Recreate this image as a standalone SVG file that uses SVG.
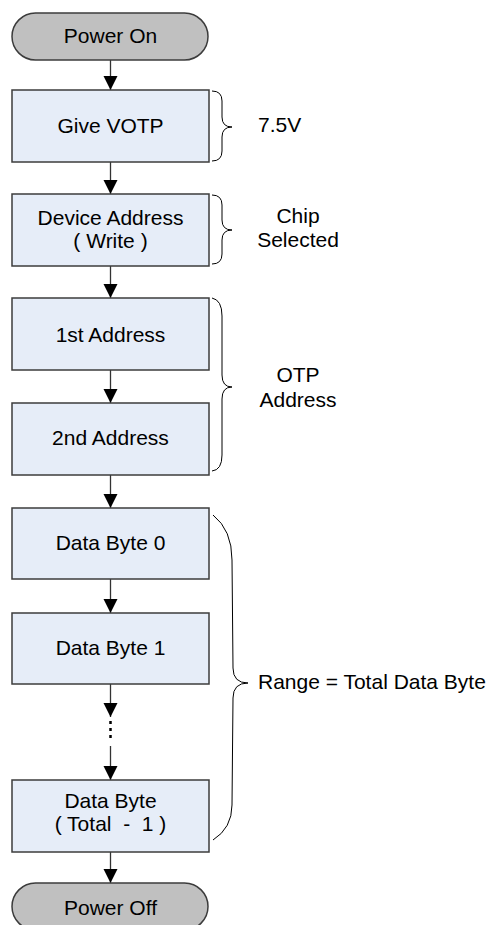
<svg xmlns="http://www.w3.org/2000/svg" width="493" height="925" viewBox="0 0 493 925">
<defs>
<style>
.box{fill:#e6edf8;stroke:#3c3c3c;stroke-width:1.5}
.pill{fill:#c0c0c0;stroke:#3c3c3c;stroke-width:1.5}
.t{font-family:"Liberation Sans",Arial,sans-serif;font-size:21px;fill:#000;text-anchor:middle}
.l{font-family:"Liberation Sans",Arial,sans-serif;font-size:21px;fill:#000}
.c{stroke:#333;stroke-width:1.3;fill:none}
.br{stroke:#000;stroke-width:1;fill:none}
</style>
<marker id="ah" markerUnits="userSpaceOnUse" markerWidth="16" markerHeight="16" viewBox="0 0 16 16" refX="14" refY="8" orient="auto">
<path d="M0,1 L14,8 L0,15 Z" fill="#000"/>
</marker>
</defs>
<rect width="493" height="925" fill="#fff"/>
<g id="connectors">
<line class="c" x1="110.5" y1="60" x2="110.5" y2="90" marker-end="url(#ah)"/>
<line class="c" x1="110.5" y1="162" x2="110.5" y2="194" marker-end="url(#ah)"/>
<line class="c" x1="110.5" y1="266" x2="110.5" y2="298" marker-end="url(#ah)"/>
<line class="c" x1="110.5" y1="370" x2="110.5" y2="403" marker-end="url(#ah)"/>
<line class="c" x1="110.5" y1="475" x2="110.5" y2="508" marker-end="url(#ah)"/>
<line class="c" x1="110.5" y1="579" x2="110.5" y2="613" marker-end="url(#ah)"/>
<line class="c" x1="110.5" y1="684" x2="110.5" y2="717" marker-end="url(#ah)"/>
<line x1="110.5" y1="721" x2="110.5" y2="740" stroke="#000" stroke-width="2.5" stroke-dasharray="3,4"/>
<line class="c" x1="110.5" y1="746" x2="110.5" y2="780" marker-end="url(#ah)"/>
<line class="c" x1="110.5" y1="852" x2="110.5" y2="883" marker-end="url(#ah)"/>
</g>
<g id="power-on"><rect class="pill" x="12" y="13" width="196" height="47" rx="23.5"/><text class="t" x="110.5" y="43">Power On</text></g>
<g id="give-votp"><rect class="box" x="12" y="90" width="197" height="72"/><text class="t" x="110.5" y="133">Give VOTP</text></g>
<g id="device-address"><rect class="box" x="12" y="194" width="197" height="72"/><text class="t" x="110.5" y="225">Device Address</text><text class="t" x="110.5" y="248">( Write )</text></g>
<g id="first-address"><rect class="box" x="12" y="298" width="197" height="72"/><text class="t" x="110.5" y="342">1st Address</text></g>
<g id="second-address"><rect class="box" x="12" y="403" width="197" height="72"/><text class="t" x="110.5" y="445">2nd Address</text></g>
<g id="data-byte-0"><rect class="box" x="12" y="508" width="197" height="71"/><text class="t" x="110.5" y="550">Data Byte 0</text></g>
<g id="data-byte-1"><rect class="box" x="12" y="613" width="197" height="71"/><text class="t" x="110.5" y="655">Data Byte 1</text></g>
<g id="data-byte-last"><rect class="box" x="12" y="780" width="197" height="72"/><text class="t" x="110.5" y="808">Data Byte</text><text class="t" x="110.5" y="831" xml:space="preserve">( Total  -  1 )</text></g>
<g id="power-off"><rect class="pill" x="12" y="883" width="196" height="47" rx="23.5"/><text class="t" x="110.5" y="915">Power Off</text></g>
<g id="brace-votp"><path class="br" d="M212,91 Q222,91 222,101 L222,117 Q222,127 232,127 Q222,127 222,137 L222,151 Q222,161 212,161"/><text class="l" x="258" y="132">7.5V</text></g>
<g id="brace-chip"><path class="br" d="M212,195 Q222,195 222,205 L222,220 Q222,230 232,230 Q222,230 222,240 L222,254 Q222,264 212,264"/><text class="t" x="298" y="223">Chip</text><text class="t" x="298" y="247">Selected</text></g>
<g id="brace-otp"><path class="br" d="M212,298 Q222,300 222,316 L222,375 Q222,387 232,387 Q222,387 222,399 L222,455 Q222,470 212,471"/><text class="t" x="298" y="382">OTP</text><text class="t" x="298" y="407">Address</text></g>
<g id="brace-range"><path class="br" d="M213,515 Q232,530 232,560 L233,668 Q233,683 248,683 Q233,683 233,698 L232,805 Q232,828 213,840"/><text class="l" x="258" y="689">Range = Total Data Byte</text></g>
</svg>
